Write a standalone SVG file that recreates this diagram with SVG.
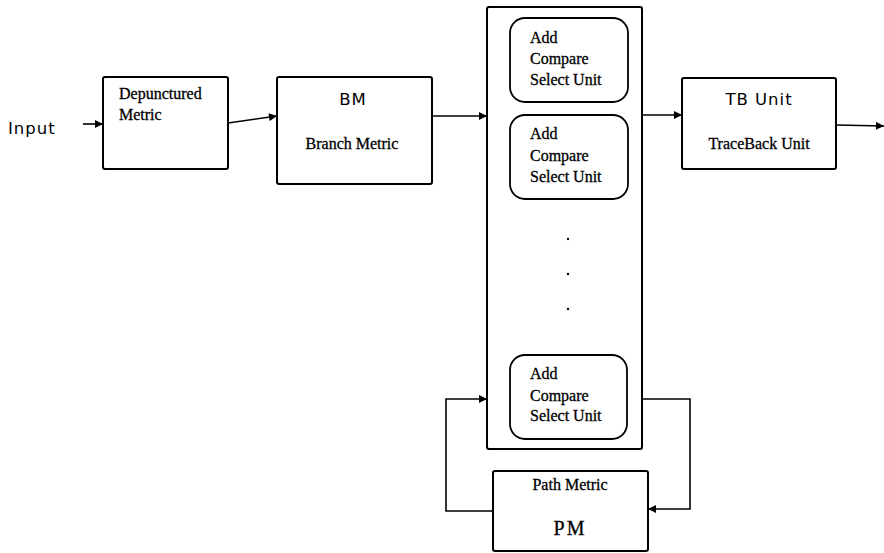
<svg xmlns="http://www.w3.org/2000/svg" width="884" height="553" viewBox="0 0 884 553">
<style>
.box{fill:#fff;stroke:#000;stroke-width:2}
.acs{fill:#fff;stroke:#000;stroke-width:1.8}
.ser{font-family:"Liberation Serif",serif;font-size:16px;fill:#000;stroke:#000;stroke-width:0.3}
.sans{font-family:"DejaVu Sans","Liberation Sans",sans-serif;font-size:16.5px;letter-spacing:1px;fill:#000}
.ln{fill:none;stroke:#000;stroke-width:1.6}
</style>
<defs>
<marker id="ah" viewBox="0 0 10 10" refX="10" refY="5" markerWidth="10" markerHeight="8" markerUnits="userSpaceOnUse" orient="auto">
<path d="M0,0 L10,5 L0,10 z" fill="#000"/>
</marker>
</defs>
<text class="sans" x="8" y="134">Input</text>
<g id="depunctured">
<rect class="box" x="103" y="77" width="125" height="92" rx="2"/>
<text class="ser" x="119" y="99">Depunctured</text>
<text class="ser" x="119" y="120">Metric</text>
</g>
<g id="bm">
<rect class="box" x="277" y="77" width="155" height="107" rx="2"/>
<text class="sans" x="353" y="105" text-anchor="middle">BM</text>
<text class="ser" x="352" y="149" text-anchor="middle">Branch Metric</text>
</g>
<g id="acs-array">
<rect class="box" x="487" y="7" width="155" height="442" rx="2"/>
<g id="acs1">
<rect class="acs" x="510" y="18" width="118" height="84" rx="15"/>
<text class="ser" x="530" y="43">Add</text>
<text class="ser" x="530" y="64">Compare</text>
<text class="ser" x="530" y="85">Select Unit</text>
</g>
<g id="acs2">
<rect class="acs" x="510" y="115" width="118" height="84" rx="15"/>
<text class="ser" x="530" y="139">Add</text>
<text class="ser" x="530" y="161">Compare</text>
<text class="ser" x="530" y="182">Select Unit</text>
</g>
<g id="dots">
<circle cx="568" cy="239" r="1.2" fill="#000"/>
<circle cx="568" cy="274" r="1.2" fill="#000"/>
<circle cx="568" cy="309" r="1.2" fill="#000"/>
</g>
<g id="acs3">
<rect class="acs" x="510" y="355" width="117" height="84" rx="15"/>
<text class="ser" x="530" y="379">Add</text>
<text class="ser" x="530" y="401">Compare</text>
<text class="ser" x="530" y="421">Select Unit</text>
</g>
</g>
<g id="tb">
<rect class="box" x="682" y="78" width="154" height="91" rx="2"/>
<text class="sans" x="759" y="105" text-anchor="middle">TB Unit</text>
<text class="ser" x="759" y="149" text-anchor="middle">TraceBack Unit</text>
</g>
<g id="pm">
<rect class="box" x="493" y="471" width="155" height="80" rx="2"/>
<text class="ser" x="570" y="490" text-anchor="middle">Path Metric</text>
<text class="ser" x="570" y="535" text-anchor="middle" style="font-size:20px;letter-spacing:2px">PM</text>
</g>
<g id="connectors">
<line class="ln" x1="83" y1="124" x2="103" y2="124" marker-end="url(#ah)"/>
<line class="ln" x1="228" y1="123" x2="277" y2="116" marker-end="url(#ah)"/>
<line class="ln" x1="432" y1="116" x2="487" y2="116" marker-end="url(#ah)"/>
<line class="ln" x1="642" y1="115" x2="682" y2="115" marker-end="url(#ah)"/>
<line class="ln" x1="836" y1="125" x2="884" y2="126" marker-end="url(#ah)"/>
<polyline class="ln" points="642,399 690,399 690,509 648,509" marker-end="url(#ah)"/>
<polyline class="ln" points="493,511 446,511 446,399 487,399" marker-end="url(#ah)"/>
</g>
</svg>
